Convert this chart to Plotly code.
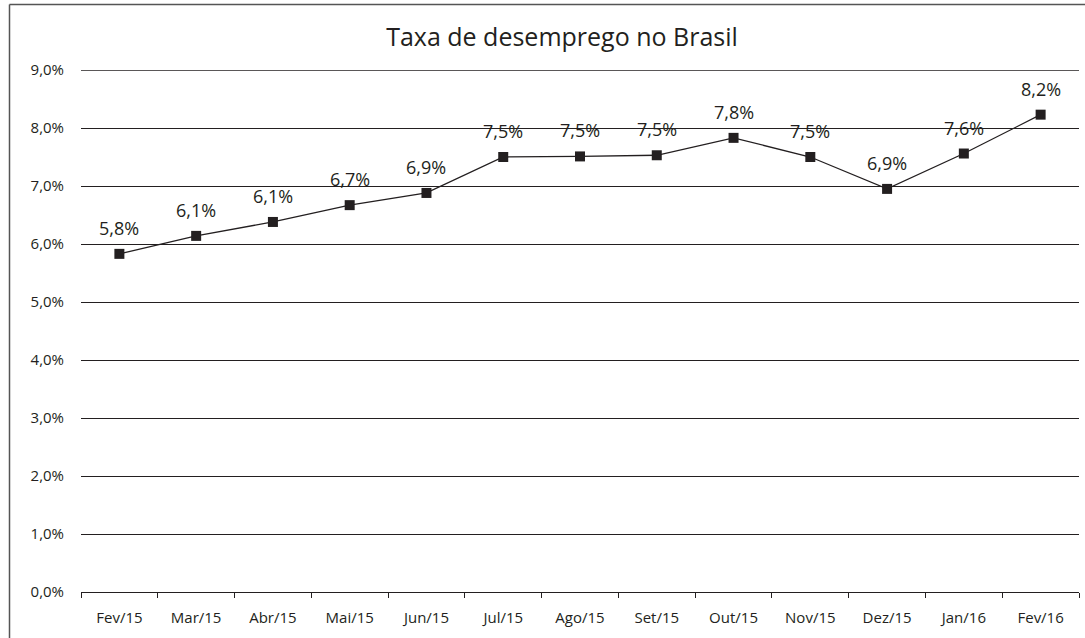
import plotly.graph_objects as go

months = ["Fev/15", "Mar/15", "Abr/15", "Mai/15", "Jun/15", "Jul/15", "Ago/15",
          "Set/15", "Out/15", "Nov/15", "Dez/15", "Jan/16", "Fev/16"]
rates = [5.83, 6.14, 6.38, 6.67, 6.88, 7.50, 7.51, 7.53, 7.83, 7.50, 6.95, 7.56, 8.23]
rate_labels = ["5,8%", "6,1%", "6,1%", "6,7%", "6,9%", "7,5%", "7,5%",
               "7,5%", "7,8%", "7,5%", "6,9%", "7,6%", "8,2%"]
y_ticks = [0, 1, 2, 3, 4, 5, 6, 7, 8, 9]
y_tick_labels = ["0,0%", "1,0%", "2,0%", "3,0%", "4,0%", "5,0%", "6,0%", "7,0%", "8,0%", "9,0%"]

W, H = 1085, 638
ML, MR, MT, MB = 81, 6, 70, 46
INK = "#231f20"
FONT = "Open Sans"

fig = go.Figure()
fig.add_trace(go.Scatter(
    x=months, y=rates, mode="lines+markers",
    line=dict(color=INK, width=1.3),
    marker=dict(symbol="square", size=10, color=INK),
    hoverinfo="skip", showlegend=False,
))

for m, v, t in zip(months, rates, rate_labels):
    fig.add_annotation(x=m, y=v, text=t, showarrow=False, yshift=26,
                       font=dict(family=FONT, size=18, color=INK))

pw = W - ML - MR
ph = H - MT - MB
def px_x(p):
    return (p - ML) / pw
def px_y(p):
    return (H - MB - p) / ph

# top gridline (plotly hides the grid line at the range edge)
fig.add_shape(type="line", xref="paper", yref="y", x0=0, x1=1,
              y0=y_ticks[-1], y1=y_ticks[-1], line=dict(color=INK, width=1.3), layer="below")

# outer frame (left and top edges visible)
fig.add_shape(type="line", xref="paper", yref="paper",
              x0=px_x(9.5), x1=px_x(W + 5), y0=px_y(4.5), y1=px_y(4.5),
              line=dict(color="#555555", width=1.5))
fig.add_shape(type="line", xref="paper", yref="paper",
              x0=px_x(9.5), x1=px_x(9.5), y0=px_y(4.5), y1=px_y(H + 5),
              line=dict(color="#555555", width=1.5))

fig.update_layout(
    width=W, height=H,
    margin=dict(l=ML, r=MR, t=MT, b=MB, autoexpand=False),
    paper_bgcolor="white", plot_bgcolor="white",
    font=dict(family=FONT, color=INK),
    title=dict(text="Taxa de desemprego no Brasil", xref="container", x=562 / W,
               xanchor="center", yref="container", y=(H - 37) / H, yanchor="middle",
               font=dict(family=FONT, size=25, color=INK)),
    xaxis=dict(type="category", range=[-0.5, 12.5], showgrid=False, zeroline=False,
               showline=True, linecolor=INK, linewidth=1.3,
               ticks="outside", tickson="boundaries", ticklen=5, tickcolor=INK, tickwidth=1.3,
               tickfont=dict(family=FONT, size=15, color=INK), ticklabelstandoff=12),
    yaxis=dict(range=[0, 9], tickvals=y_ticks, ticktext=y_tick_labels,
               showgrid=True, gridcolor=INK, gridwidth=1.3, zeroline=False,
               showline=False, ticks="", tickfont=dict(family=FONT, size=15, color=INK),
               ticklabelstandoff=16),
)

fig.write_html("out.html", config={"displayModeBar": False},
               post_script="document.body.style.margin='0';")
